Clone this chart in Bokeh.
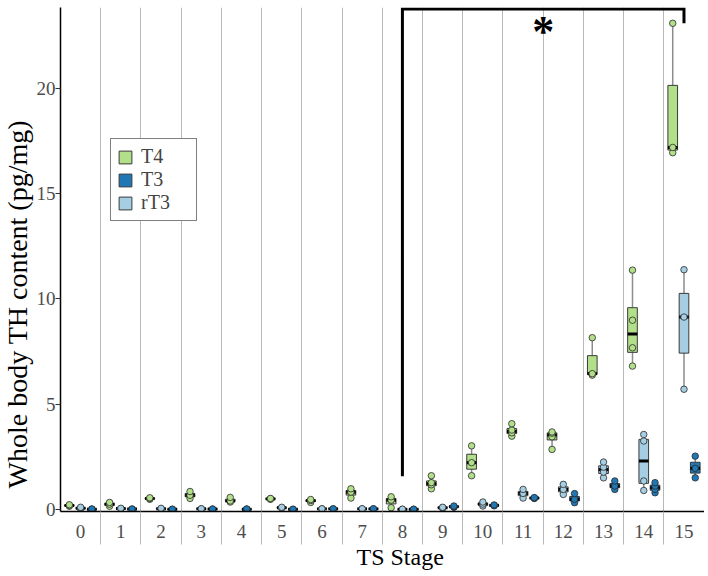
import numpy as np
from bokeh.plotting import figure
from bokeh.models import Range1d, FixedTicker, Legend, LegendItem, ColumnDataSource, Title
from bokeh.core.properties import value
from bokeh.embed import file_html
from bokeh.resources import INLINE

# ---------------- data ----------------
stages = list(range(16))
stage_labels = [str(s) for s in stages]
series_names = ["T4", "T3", "rT3"]
y_ticks = [0, 5, 10, 15, 20]

t4_values = [
    [0.15, 0.19, 0.22], [0.15, 0.25, 0.33], [0.48, 0.52, 0.55], [0.52, 0.67, 0.85],
    [0.35, 0.40, 0.57], [0.48, 0.50, 0.52], [0.33, 0.42, 0.47], [0.54, 0.82, 0.98],
    [0.08, 0.44, 0.60], [0.98, 1.17, 1.27, 1.60], [1.60, 2.22, 3.02], [3.48, 3.64, 3.77, 4.07],
    [2.85, 3.45, 3.62, 3.68], [6.38, 6.45, 8.16], [6.81, 7.68, 8.99, 11.37], [16.95, 17.20, 23.10],
]
t3_values = [
    [0.00, 0.01, 0.02], [0.01, 0.02], [0.00, 0.01], [0.01, 0.02],
    [0.00, 0.01, 0.02], [0.00, 0.01], [0.02, 0.03], [0.02, 0.03],
    [0.00, 0.01], [0.10, 0.13, 0.16], [0.17, 0.19, 0.21], [0.52, 0.54, 0.56],
    [0.32, 0.48, 0.75], [0.95, 1.11, 1.35], [0.79, 0.95, 1.11, 1.27], [1.50, 1.95, 2.53],
]
rt3_values = [
    [0.03, 0.06, 0.10], [0.03, 0.05], [0.02, 0.05], [0.02, 0.03],
    [], [0.06, 0.10], [0.02, 0.03], [0.02, 0.03],
    [0.00, 0.01], [0.06, 0.08, 0.10], [0.16, 0.25, 0.35], [0.54, 0.76, 0.95],
    [0.71, 0.95, 1.19], [1.50, 1.77, 2.01, 2.25], [0.90, 1.35, 3.25, 3.56], [5.71, 9.14, 11.39],
]

x_title = "TS Stage"
y_title = "Whole body TH content (pg/mg)"

# significance bracket (stage 8 to stage 15)
bracket_from, bracket_to = 8, 15
bracket_top = 23.78
bracket_left_low, bracket_right_low = 1.57, 23.1
star_y = 22.7

# ---------------- style ----------------
FONT = "Liberation Serif"
colors = {"T4": "#b2df8a", "T3": "#1f78b4", "rT3": "#a6cee3"}
offsets = {"T4": -0.28, "rT3": 0.0, "T3": 0.28}
lone_offset = 0.13  # T3 offset where rT3 is absent
box_w = 0.24
values = {"T4": t4_values, "T3": t3_values, "rT3": rt3_values}


def box_stats(vals):
    v = np.sort(np.asarray(vals, float))
    q1, med, q3 = np.percentile(v, [25, 50, 75])
    iqr = q3 - q1
    lo = v[v >= q1 - 1.5 * iqr].min()
    hi = v[v <= q3 + 1.5 * iqr].max()
    return q1, med, q3, lo, hi


p = figure(width=704, height=575, output_backend="svg", toolbar_location=None,
           x_range=Range1d(-0.5, 15.51), y_range=Range1d(-0.1, 23.85),
           min_border_left=55, min_border_right=0, min_border_top=7, min_border_bottom=64)
p.outline_line_color = None
p.background_fill_color = "white"

# grid: vertical separators between stages
boundaries = [s + 0.5 for s in stages]
p.xgrid.ticker = FixedTicker(ticks=boundaries)
p.xgrid.grid_line_color = "#b8b8b8"
p.xgrid.grid_line_width = 1
p.ygrid.visible = False

# x axis
p.xaxis.ticker = FixedTicker(ticks=stages, minor_ticks=boundaries)
p.xaxis.major_label_overrides = {s: lab for s, lab in zip(stages, stage_labels)}
p.xaxis.major_tick_out = 0
p.xaxis.major_tick_in = 0
p.xaxis.minor_tick_in = 0
p.xaxis.minor_tick_out = 33
p.xaxis.minor_tick_line_color = "#b8b8b8"
p.xaxis.minor_tick_line_width = 1
p.xaxis.major_label_standoff = -20
p.xaxis.axis_line_color = "black"
p.xaxis.axis_line_width = 1.5

# y axis
p.yaxis.ticker = FixedTicker(ticks=y_ticks)
p.yaxis.major_tick_out = 5
p.yaxis.major_tick_in = 0
p.yaxis.minor_tick_out = 0
p.yaxis.minor_tick_in = 0
p.yaxis.major_tick_line_color = "#333333"
p.yaxis.major_label_standoff = 0
p.yaxis.axis_line_color = "black"
p.yaxis.axis_line_width = 1.5

for ax in (p.xaxis[0], p.yaxis[0]):
    ax.major_label_text_font = FONT
    ax.major_label_text_font_size = "19px"
    ax.major_label_text_color = "#4d4d4d"

# axis titles (placed like the original, off-centre)
p.add_layout(Title(text=y_title, text_font=FONT, text_font_size="28px", text_font_style="normal",
                   text_color="black", align="left", offset=23, standoff=0,
                   vertical_align="middle"), "left")
p.add_layout(Title(text=x_title, text_font=FONT, text_font_size="24px", text_font_style="normal",
                   text_color="black", align="left", offset=296, standoff=6,
                   vertical_align="top"), "below")

box_renderers = {}
point_sources = []
for name in ["T4", "rT3", "T3"]:
    xs, q1s, meds, q3s, los, his = [], [], [], [], [], []
    px, py = [], []
    for s in stages:
        vals = values[name][s]
        if not vals:
            continue
        off = offsets[name]
        if name == "T3" and not rt3_values[s]:
            off = lone_offset
        q1, med, q3, lo, hi = box_stats(vals)
        x = s + off
        xs.append(x); q1s.append(q1); meds.append(med); q3s.append(q3)
        los.append(lo); his.append(hi)
        px += [x] * len(vals)
        py += list(vals)
    src = ColumnDataSource(dict(x=xs, q1=q1s, med=meds, q3=q3s, lo=los, hi=his,
                                ml=[x - box_w / 2 for x in xs], mr=[x + box_w / 2 for x in xs]))
    p.segment(x0="x", y0="lo", x1="x", y1="hi", source=src, line_color="#8c8c8c", line_width=1.5)
    r = p.vbar(x="x", width=box_w, bottom="q1", top="q3", source=src,
               fill_color=colors[name], line_color="#3a3a3a", line_width=1)
    p.segment(x0="ml", y0="med", x1="mr", y1="med", source=src, line_color="black", line_width=3)
    box_renderers[name] = r
    point_sources.append((name, ColumnDataSource(dict(x=px, y=py))))

for name, src in point_sources:
    p.scatter(x="x", y="y", source=src, size=6.5, marker="circle",
              fill_color=colors[name], line_color="#2a2a2a", line_alpha=0.8, line_width=1)

# significance bracket and asterisk
p.line(x=[bracket_from, bracket_from, bracket_to, bracket_to],
       y=[bracket_left_low, bracket_top, bracket_top, bracket_right_low],
       line_color="black", line_width=3, line_join="miter")
p.text(x=[(bracket_from + bracket_to) / 2], y=[star_y], text=["*"],
       text_font=value(FONT), text_font_size="44px", text_font_style="bold",
       text_align="center", text_baseline="alphabetic", text_color="black")

legend = Legend(items=[LegendItem(label=n, renderers=[box_renderers[n]]) for n in series_names],
                location=(50, 290))
legend.label_text_font = FONT
legend.label_text_font_size = "20px"
legend.glyph_width = 16
legend.glyph_height = 16
legend.label_standoff = 8
legend.label_width = 49
legend.padding = 6
legend.spacing = 0
legend.margin = 0
legend.border_line_color = "black"
legend.border_line_width = 1.5
legend.background_fill_color = "white"
legend.background_fill_alpha = 1
p.add_layout(legend)

open("out.html", "w").write(file_html(p, INLINE))
